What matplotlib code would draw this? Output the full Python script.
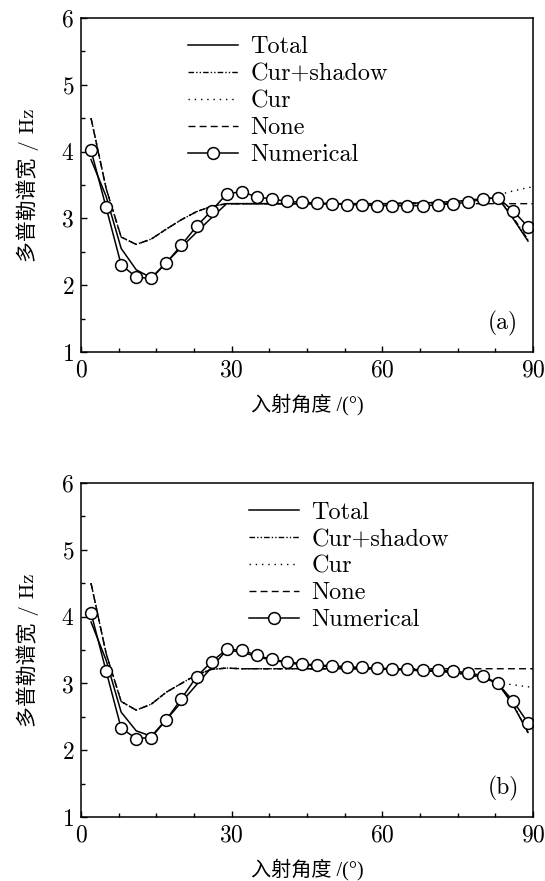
import matplotlib
matplotlib.use("Agg")
import matplotlib.pyplot as plt
from matplotlib.ticker import MultipleLocator

plt.rcParams['font.family'] = ['cmr10', 'Noto Sans CJK SC', 'DejaVu Sans']
plt.rcParams['axes.formatter.use_mathtext'] = True
plt.rcParams['axes.unicode_minus'] = False

# incidence angle grid (deg)
angle = [2, 5, 8, 11, 14, 17, 20, 23, 26, 29, 32, 35, 38, 41, 44, 47, 50, 53,
         56, 59, 62, 65, 68, 71, 74, 77, 80, 83, 86, 89]
angle_ext = angle + [90]

# ---- panel (a) ----
total_a = [3.88, 3.33, 2.55, 2.23, 2.11, 2.34, 2.57, 2.79, 3.01, 3.22, 3.22, 3.22,
           3.22, 3.22, 3.22, 3.22, 3.22, 3.22, 3.22, 3.22, 3.22, 3.23, 3.23, 3.24,
           3.25, 3.27, 3.29, 3.31, 3.00, 2.66]
curshadow_a = [4.50, 3.45, 2.72, 2.61, 2.69, 2.84, 2.98, 3.10, 3.18, 3.22, 3.22, 3.22,
               3.22, 3.22, 3.22, 3.22, 3.22, 3.22, 3.22, 3.22, 3.22, 3.23, 3.23, 3.24,
               3.25, 3.27, 3.29, 3.31, 3.02, 2.68]
cur_a = [4.50, 3.45, 2.72, 2.61, 2.69, 2.84, 2.98, 3.10, 3.18, 3.22, 3.22, 3.22,
         3.22, 3.22, 3.22, 3.22, 3.22, 3.22, 3.22, 3.22, 3.22, 3.23, 3.23, 3.24,
         3.25, 3.27, 3.30, 3.35, 3.41, 3.46, 3.47]
none_a = [4.50, 3.45, 2.72, 2.61, 2.69, 2.84, 2.98, 3.10, 3.18, 3.22, 3.22, 3.22,
          3.22, 3.22, 3.22, 3.22, 3.22, 3.22, 3.22, 3.22, 3.22, 3.22, 3.22, 3.22,
          3.22, 3.22, 3.22, 3.22, 3.22, 3.22, 3.22]
num_a = [4.02, 3.165, 2.305, 2.12, 2.10, 2.335, 2.60, 2.88, 3.115, 3.365, 3.40, 3.32,
         3.29, 3.255, 3.24, 3.23, 3.22, 3.205, 3.20, 3.19, 3.19, 3.19, 3.19, 3.20,
         3.22, 3.24, 3.29, 3.31, 3.115, 2.875]

# ---- panel (b) ----
total_b = [3.92, 3.35, 2.57, 2.29, 2.21, 2.46, 2.72, 2.98, 3.24, 3.50, 3.47, 3.40,
           3.35, 3.31, 3.28, 3.26, 3.25, 3.24, 3.23, 3.22, 3.21, 3.20, 3.19, 3.18,
           3.17, 3.14, 3.09, 3.00, 2.68, 2.27]
curshadow_b = [4.50, 3.45, 2.73, 2.60, 2.69, 2.87, 3.00, 3.13, 3.21, 3.23, 3.22, 3.22,
               3.22, 3.22, 3.22, 3.22, 3.22, 3.22, 3.22, 3.21, 3.21, 3.20, 3.19, 3.18,
               3.16, 3.13, 3.08, 3.00, 2.70, 2.26]
cur_b = [4.50, 3.45, 2.73, 2.60, 2.69, 2.87, 3.00, 3.13, 3.21, 3.23, 3.22, 3.22,
         3.22, 3.22, 3.22, 3.22, 3.22, 3.22, 3.22, 3.21, 3.21, 3.20, 3.19, 3.18,
         3.16, 3.13, 3.08, 3.01, 2.98, 2.95, 2.94]
none_b = [4.50, 3.45, 2.73, 2.60, 2.69, 2.87, 3.00, 3.13, 3.21, 3.23, 3.22, 3.22,
          3.22, 3.22, 3.22, 3.22, 3.22, 3.22, 3.22, 3.22, 3.22, 3.22, 3.22, 3.22,
          3.22, 3.22, 3.22, 3.22, 3.22, 3.22, 3.22]
num_b = [4.056, 3.185, 2.33, 2.175, 2.19, 2.46, 2.77, 3.10, 3.325, 3.51, 3.50, 3.42,
         3.36, 3.325, 3.295, 3.275, 3.265, 3.25, 3.24, 3.23, 3.22, 3.215, 3.205, 3.195,
         3.185, 3.16, 3.115, 3.00, 2.74, 2.41]

labels = ['Total', 'Cur+shadow', 'Cur', 'None', 'Numerical']
xlabel = '入射角度 /(°)'
ylabel = '多普勒谱宽 / Hz'

fig = plt.figure(figsize=(5.45, 8.81), dpi=100)
ax_a = fig.add_axes([0.1486, 0.6005, 0.8294, 0.3791])
ax_b = fig.add_axes([0.1486, 0.0726, 0.8294, 0.3791])


def draw_panel(ax, total, curshadow, cur, none, num, tag, leg_x, leg_y):
    ax.plot(angle, total, color='black', lw=1.1, label=labels[0])
    ax.plot(angle, curshadow, color='black', lw=1.0,
            linestyle=(0, (4, 1.5, 1, 1.5, 1, 1.5)), label=labels[1])
    ax.plot(angle_ext, cur, color='black', lw=1.0,
            linestyle=(0, (1, 3.5)), label=labels[2])
    ax.plot(angle_ext, none, color='black', lw=1.0,
            linestyle=(0, (5, 3)), label=labels[3])
    ax.plot(angle, num, color='black', lw=1.1, marker='o', markersize=8.5,
            markerfacecolor='white', markeredgecolor='black',
            markeredgewidth=1.1, label=labels[4])

    ax.set_xlim(0, 90)
    ax.set_ylim(1, 6)
    ax.xaxis.set_major_locator(MultipleLocator(30))
    ax.xaxis.set_minor_locator(MultipleLocator(7.5))
    ax.yaxis.set_major_locator(MultipleLocator(1))
    ax.yaxis.set_minor_locator(MultipleLocator(0.5))
    ax.tick_params(which='both', direction='in', top=False, right=False,
                   labelsize=17, width=1.0)
    ax.tick_params(which='major', length=4, pad=5)
    ax.tick_params(which='minor', length=3)
    for sp in ax.spines.values():
        sp.set_linewidth(1.1)

    # Liberation Serif carries the degree sign, CJK falls back to Noto
    ax.set_xlabel(xlabel, fontsize=14.5, labelpad=9,
                  family=['Liberation Serif', 'Noto Sans CJK SC'])
    ax.set_ylabel(ylabel, fontsize=15, labelpad=16)
    ax.text(0.934, 0.085, tag, transform=ax.transAxes, fontsize=17,
            ha='center', va='center')
    ax.legend(loc='upper left', bbox_to_anchor=(leg_x, leg_y), frameon=False,
              fontsize=17.5, handlelength=2.06, handletextpad=0.53,
              labelspacing=0.2, borderaxespad=0.3)


draw_panel(ax_a, total_a, curshadow_a, cur_a, none_a, num_a, '(a)', 0.198, 0.997)
draw_panel(ax_b, total_b, curshadow_b, cur_b, none_b, num_b, '(b)', 0.333, 0.996)

fig.savefig('out.png', dpi=100)
